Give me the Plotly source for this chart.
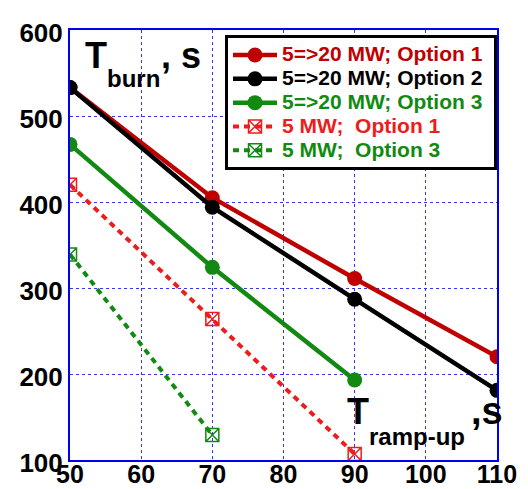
import plotly.graph_objects as go

x_ramp = [50, 70, 90, 110]
opt1_20 = [533, 405, 311, 220]
opt2_20 = [533, 394, 287, 181]
x_opt3 = [50, 70, 90]
opt3_20 = [467, 324, 193]
x_5_opt1 = [50, 70, 90]
opt1_5 = [420, 264, 107]
x_5_opt3 = [50, 70]
opt3_5 = [339, 129]

names = ["5=>20 MW; Option 1", "5=>20 MW; Option 2", "5=>20 MW; Option 3",
         "5 MW;  Option 1", "5 MW;  Option 3"]
x_ticks = [50, 60, 70, 80, 90, 100, 110]
y_ticks = [100, 200, 300, 400, 500, 600]

RED = "#c00000"
BLACK = "#000000"
GREEN = "#128a12"
RED_D = "#ee1c1c"
GREEN_D = "#128a12"
FONT = "Liberation Sans"

def lbl(t, c):
    return f"<span style='color:{c};font-size:21px'>{t.replace('  ', '&nbsp; ')}&nbsp;</span>"

fig = go.Figure()
fig.add_trace(go.Scatter(x=x_ramp, y=opt1_20, mode="lines+markers", name=lbl(names[0], RED),
                         line=dict(color=RED, width=4.5), marker=dict(symbol="circle", size=15, color=RED)))
fig.add_trace(go.Scatter(x=x_ramp, y=opt2_20, mode="lines+markers", name=lbl(names[1], BLACK),
                         line=dict(color=BLACK, width=4.5), marker=dict(symbol="circle", size=15, color=BLACK)))
fig.add_trace(go.Scatter(x=x_opt3, y=opt3_20, mode="lines+markers", name=lbl(names[2], GREEN),
                         line=dict(color=GREEN, width=4.5), marker=dict(symbol="circle", size=15, color=GREEN)))
fig.add_trace(go.Scatter(x=x_5_opt1, y=opt1_5, mode="lines+markers", name=lbl(names[3], RED_D),
                         line=dict(color=RED_D, width=4, dash="6px,5px"),
                         marker=dict(symbol="square-x-open", size=13, color=RED_D, line=dict(width=1.5, color=RED_D))))
fig.add_trace(go.Scatter(x=x_5_opt3, y=opt3_5, mode="lines+markers", name=lbl(names[4], GREEN_D),
                         line=dict(color=GREEN_D, width=4, dash="6px,5px"),
                         marker=dict(symbol="square-x-open", size=13, color=GREEN_D, line=dict(width=1.5, color=GREEN_D))))

axis_common = dict(showline=True, linecolor="#0000ee", linewidth=2, mirror=True,
                   showgrid=True, gridcolor="#3333ff", griddash="dot", gridwidth=1,
                   zeroline=False, ticks="", automargin=False)

fig.update_xaxes(range=[50, 110], tickvals=x_ticks, ticklabelstandoff=-9,
                 tickfont=dict(family=FONT, size=25, color="black", weight="bold"), **axis_common)
fig.update_yaxes(range=[100, 600], tickvals=y_ticks, ticklabelshift=3,
                 tickfont=dict(family=FONT, size=26, color="black", weight="bold"), **axis_common)

# plot area: x 70..497 px, y 30..460 px
def px(xp):
    return (xp - 70) / 427.0

def py(yp):
    return (460 - yp) / 430.0

def txt(s, x, baseline, size):
    return dict(text=s, xref="paper", yref="paper", x=px(x), y=py(baseline - 0.3465 * size),
                xanchor="left", yanchor="middle", showarrow=False, borderpad=0, borderwidth=0,
                font=dict(family=FONT, size=size, color="black", weight="bold"))

annotations = [
    txt("T", 85, 68, 36),
    txt("burn", 106.5, 87, 24),
    txt(", s", 160.5, 68, 36),
    txt("T", 347, 424, 36),
    txt("ramp-up", 369, 445, 24),
    txt(",s", 470.5, 424, 38),
]

fig.update_layout(
    width=528, height=489,
    margin=dict(l=70, r=31, t=30, b=29),
    plot_bgcolor="white", paper_bgcolor="white",
    showlegend=True,
    legend=dict(x=1, xanchor="right", y=0.988, yanchor="top",
                bgcolor="white", bordercolor="black", borderwidth=3,
                font=dict(family=FONT, size=16, weight="bold"),
                tracegroupgap=0, itemwidth=44),
    annotations=annotations,
)

fig.write_html("out.html")
